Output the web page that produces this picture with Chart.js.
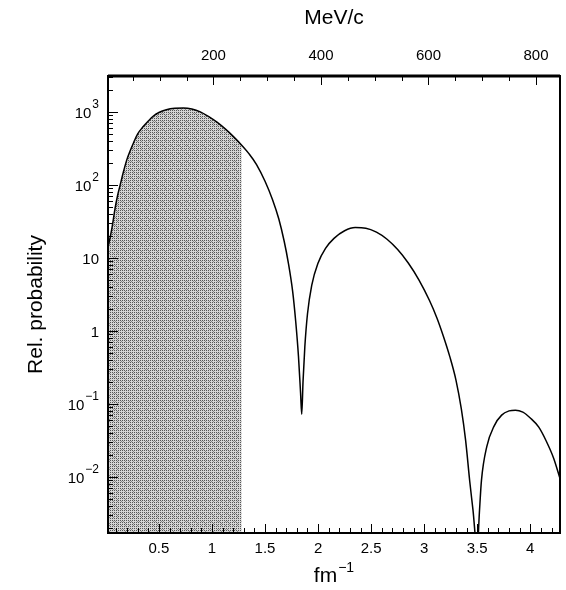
<!DOCTYPE html>
<html>
<head>
<meta charset="utf-8">
<script src="https://cdn.jsdelivr.net/npm/chart.js@4.4.1/dist/chart.umd.min.js"></script>
<style>
  html, body { margin: 0; padding: 0; background: #fff; }
  #wrap { width: 566px; height: 590px; }
</style>
</head>
<body>
<div id="wrap"><canvas id="probChart" width="566" height="590"></canvas></div>
<script>
// momentum k (fm^-1) and relative probability
const kValues = [
  0.02, 0.04, 0.06, 0.087, 0.11, 0.135, 0.165, 0.197, 0.23, 0.26,
  0.3, 0.35, 0.4, 0.445, 0.5, 0.57, 0.65, 0.73, 0.81, 0.89,
  0.97, 1.05, 1.13, 1.2, 1.28, 1.35, 1.42, 1.5, 1.57, 1.63,
  1.68, 1.72, 1.76, 1.79, 1.815, 1.835, 1.846, 1.858, 1.875, 1.9,
  1.94, 2.0, 2.07, 2.15, 2.25, 2.35, 2.45, 2.55, 2.65, 2.75,
  2.85, 2.95, 3.05, 3.12, 3.18, 3.24, 3.3, 3.35, 3.39, 3.43,
  3.46, 3.5, 3.52, 3.54, 3.59, 3.66, 3.73, 3.8, 3.86, 3.93,
  4.0, 4.08, 4.15, 4.22, 4.28
];
const probValues = [
  14, 19, 27, 48, 71, 100, 150, 220, 295, 375,
  500, 624, 750, 870, 980, 1070, 1120, 1130, 1095, 1000,
  860, 716, 575, 462, 350, 266, 190, 112, 63, 34,
  17, 8.5, 3.5, 1.3, 0.45, 0.14, 0.072, 0.2, 0.6, 1.7,
  4.2, 8.5, 13.5, 18.5, 23.5, 26, 25.5, 22.5, 18, 13,
  8.5, 5.0, 2.6, 1.5, 0.85, 0.45, 0.21, 0.085, 0.032, 0.0085,
  0.0035, 0.001, 0.0032, 0.009, 0.026, 0.05, 0.07, 0.08, 0.082, 0.077,
  0.064, 0.048, 0.031, 0.018, 0.0095
];
const shadeLimit = 1.28;

const xTicks = [0.5, 1, 1.5, 2, 2.5, 3, 3.5, 4];
const xTickLabels = ["0.5", "1", "1.5", "2", "2.5", "3", "3.5", "4"];
const mevTicks = [200, 400, 600, 800];
const mevTickLabels = ["200", "400", "600", "800"];
const yTicks = [1e-2, 1e-1, 1, 10, 1e2, 1e3];
const yTickBase = ["10", "10", "1", "10", "10", "10"];
const yTickExp = ["\u22122", "\u22121", "", "", "2", "3"];

const HBARC = 197.327;
const kMin = 0.02, kMax = 4.28;
const yMin = 1.7e-3, yMax = 3.1e3;

const curvePoints = kValues.map((k, i) => ({ x: k, y: probValues[i] }));
const shadePoints = curvePoints.filter(p => p.x <= shadeLimit);

// grey halftone texture for the shaded region
function makeStipple() {
  const c = document.createElement("canvas");
  c.width = 8; c.height = 8;
  const g = c.getContext("2d");
  g.fillStyle = "#d4d4d4";
  g.fillRect(0, 0, 8, 8);
  g.fillStyle = "#555";
  for (let y = 0; y < 8; y += 2) {
    for (let x = 0; x < 8; x += 2) g.fillRect(x, y, 1, 1);
  }
  g.fillStyle = "#8a8a8a";
  g.fillRect(1, 1, 1, 1);
  g.fillRect(5, 5, 1, 1);
  g.fillRect(3, 1, 1, 1);
  g.fillRect(1, 5, 1, 1);
  g.fillRect(5, 3, 1, 1);
  return g.createPattern(c, "repeat");
}

const FONT = "'Liberation Sans', Arial, sans-serif";

// inward tick marks, frame, power-of-ten labels and the fm^-1 title
const frameTicks = {
  id: "frameTicks",
  afterDatasetsDraw(chart) {
    const { ctx, chartArea: a, scales } = chart;
    ctx.save();
    ctx.strokeStyle = "#000";
    ctx.lineWidth = 1;
    ctx.beginPath();
    for (let i = 1; i <= 43; i++) {
      const v = i / 10;
      if (v <= kMin || v >= kMax) continue;
      const px = Math.round(scales.x.getPixelForValue(v)) + 0.5;
      const len = i % 5 === 0 ? 9 : 5;
      ctx.moveTo(px, a.bottom);
      ctx.lineTo(px, a.bottom - len);
    }
    for (let m = 50; m <= 850; m += 50) {
      const px = Math.round(scales.mev.getPixelForValue(m)) + 0.5;
      if (px <= a.left || px >= a.right) continue;
      const len = m % 200 === 0 ? 9 : 5;
      ctx.moveTo(px, a.top);
      ctx.lineTo(px, a.top + len);
    }
    for (let e = -3; e <= 3; e++) {
      for (let d = 1; d <= 9; d++) {
        const v = d * Math.pow(10, e);
        if (v <= yMin || v >= yMax) continue;
        const py = Math.round(scales.y.getPixelForValue(v)) + 0.5;
        const len = d === 1 ? 10 : 5;
        ctx.moveTo(a.left, py);
        ctx.lineTo(a.left + len, py);
      }
    }
    ctx.stroke();
    ctx.lineWidth = 2;
    ctx.strokeRect(a.left, a.top, a.right - a.left, a.bottom - a.top);
    ctx.lineWidth = 3;
    ctx.beginPath();
    ctx.moveTo(a.left, a.top);
    ctx.lineTo(a.right, a.top);
    ctx.stroke();

    ctx.fillStyle = "#000";
    ctx.textBaseline = "middle";
    yTicks.forEach((v, i) => {
      const py = scales.y.getPixelForValue(v);
      let right = a.left - 9;
      if (yTickExp[i]) {
        ctx.font = "12px " + FONT;
        ctx.textAlign = "right";
        ctx.fillText(yTickExp[i], right, py - 7);
        right -= ctx.measureText(yTickExp[i]).width + 1;
      }
      ctx.font = "15px " + FONT;
      ctx.textAlign = "right";
      ctx.fillText(yTickBase[i], right, py + 2);
    });

    // x axis title with a raised exponent
    ctx.font = "21px " + FONT;
    const wBase = ctx.measureText("fm").width;
    ctx.font = "14px " + FONT;
    const wExp = ctx.measureText("\u22121").width;
    const cx = (a.left + a.right) / 2;
    const x0 = cx - (wBase + wExp + 1) / 2;
    ctx.textAlign = "left";
    ctx.textBaseline = "alphabetic";
    ctx.font = "21px " + FONT;
    ctx.fillText("fm", x0, 582);
    ctx.font = "14px " + FONT;
    ctx.fillText("\u22121", x0 + wBase + 1, 572);
    ctx.restore();
  }
};

const ctx = document.getElementById("probChart").getContext("2d");

new Chart(ctx, {
  type: "line",
  data: {
    datasets: [
      {
        label: "probability",
        data: curvePoints,
        borderColor: "#000",
        borderWidth: 1.5,
        pointRadius: 0,
        fill: false,
        cubicInterpolationMode: "monotone"
      },
      {
        label: "shade",
        data: shadePoints,
        borderWidth: 0,
        borderColor: "rgba(0,0,0,0)",
        backgroundColor: makeStipple(),
        pointRadius: 0,
        fill: "start",
        cubicInterpolationMode: "monotone"
      }
    ]
  },
  options: {
    responsive: false,
    animation: false,
    layout: { padding: { left: 0, right: 6, top: 0, bottom: 0 } },
    plugins: {
      legend: { display: false },
      tooltip: { enabled: false }
    },
    scales: {
      x: {
        type: "linear",
        position: "bottom",
        min: kMin,
        max: kMax,
        afterBuildTicks: s => { s.ticks = xTicks.map(v => ({ value: v })); },
        afterFit: s => { s.height = 57; },
        grid: { display: false, drawTicks: false },
        border: { display: false },
        ticks: {
          autoSkip: false,
          maxRotation: 0,
          padding: 7,
          color: "#000",
          font: { family: FONT, size: 15 },
          callback: (v, i) => xTickLabels[i]
        },
        title: { display: false }
      },
      mev: {
        axis: "x",
        type: "linear",
        position: "top",
        min: kMin * HBARC,
        max: kMax * HBARC,
        afterBuildTicks: s => { s.ticks = mevTicks.map(v => ({ value: v })); },
        afterFit: s => { s.height = 76; },
        grid: { display: false, drawTicks: false },
        border: { display: false },
        ticks: {
          autoSkip: false,
          maxRotation: 0,
          padding: 11,
          color: "#000",
          font: { family: FONT, size: 15 },
          callback: (v, i) => mevTickLabels[i]
        },
        title: {
          display: true,
          text: "MeV/c",
          color: "#000",
          font: { family: FONT, size: 21 },
          padding: { top: 6, bottom: 0 }
        }
      },
      y: {
        type: "logarithmic",
        min: yMin,
        max: yMax,
        afterBuildTicks: s => { s.ticks = yTicks.map(v => ({ value: v })); },
        afterFit: s => { s.width = 108; },
        grid: { display: false, drawTicks: false },
        border: { display: false },
        ticks: { display: false },
        title: {
          display: true,
          text: "Rel. probability",
          color: "#000",
          font: { family: FONT, size: 21 },
          padding: { top: 24, bottom: 0 }
        }
      }
    }
  },
  plugins: [frameTicks]
});
</script>
</body>
</html>
